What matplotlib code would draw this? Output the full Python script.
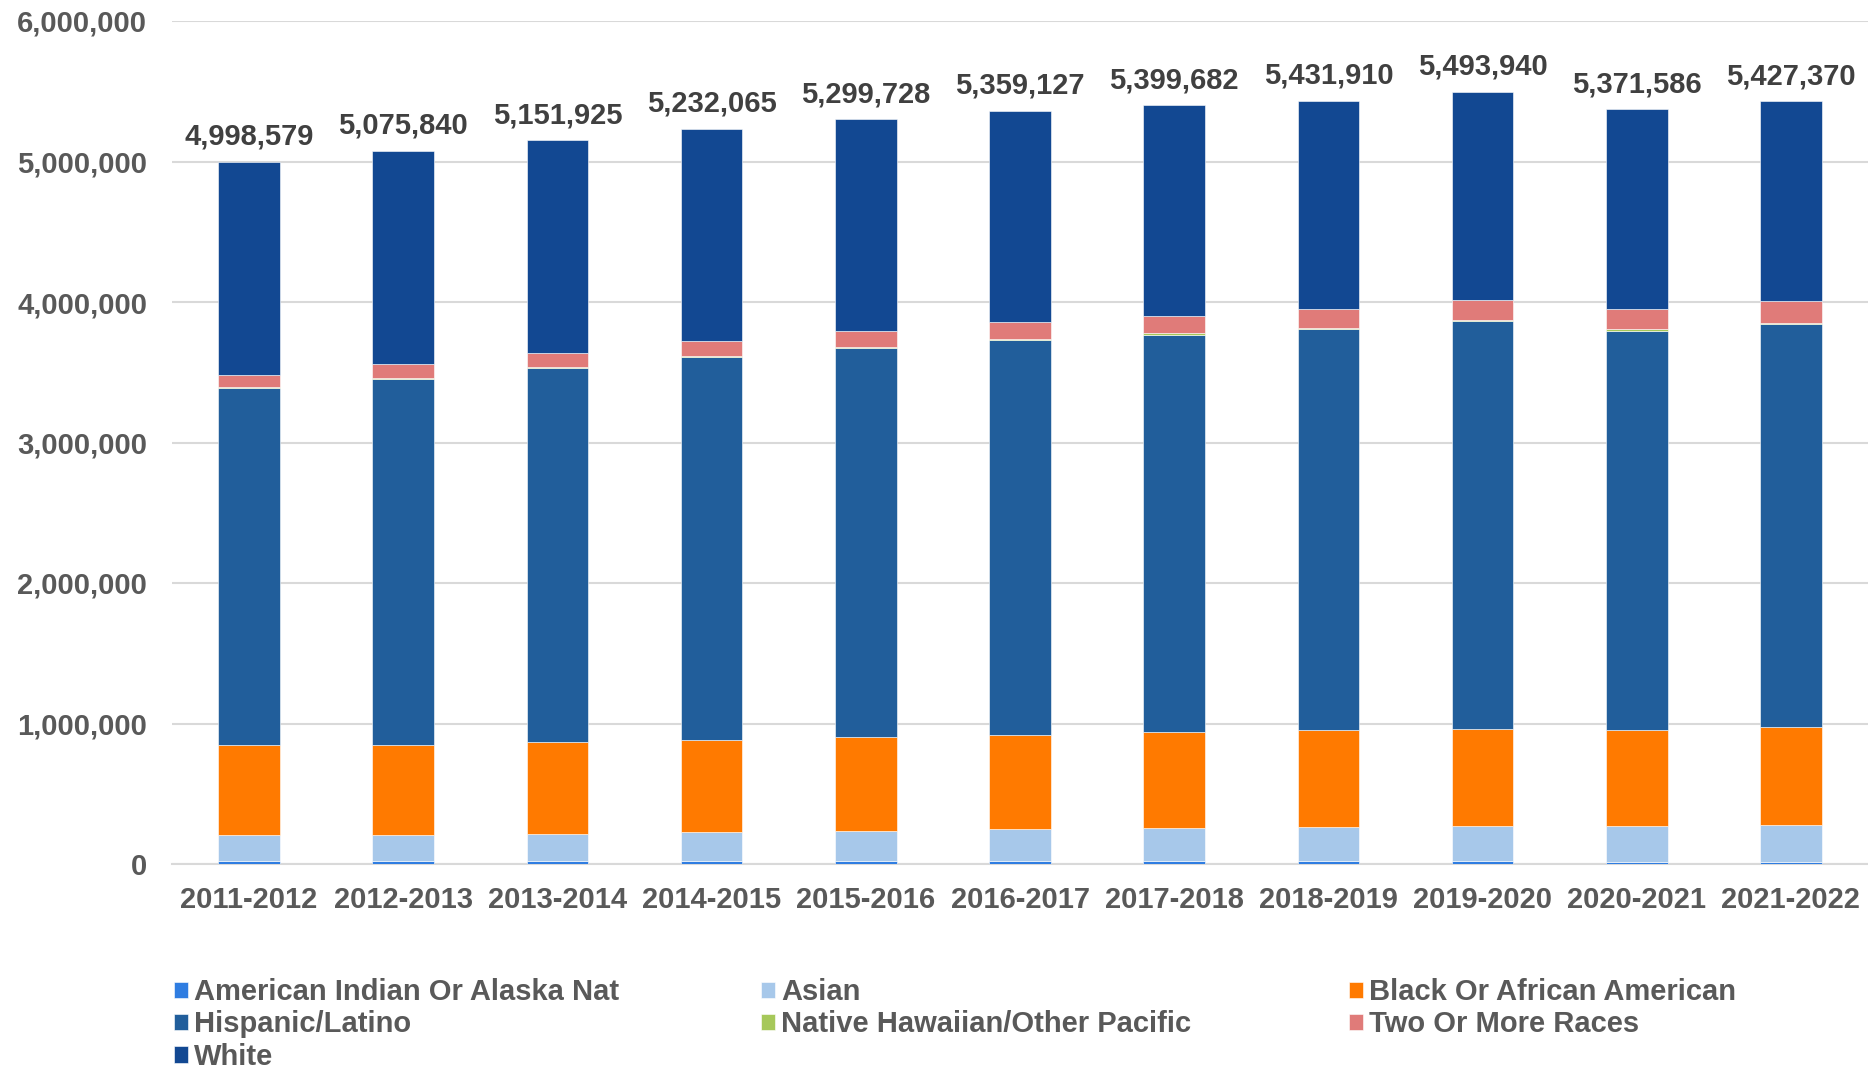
import matplotlib.pyplot as plt
from matplotlib.ticker import FuncFormatter

plt.rcParams['font.family'] = ['Liberation Sans', 'DejaVu Sans']
plt.rcParams['font.weight'] = 'bold'

years = ["2011-2012", "2012-2013", "2013-2014", "2014-2015", "2015-2016",
         "2016-2017", "2017-2018", "2018-2019", "2019-2020", "2020-2021",
         "2021-2022"]

totals = [4998579, 5075840, 5151925, 5232065, 5299728, 5359127,
          5399682, 5431910, 5493940, 5371586, 5427370]

american_indian = [23000, 21000, 21000, 21000, 21000, 21000,
                   21000, 21000, 20000, 17000, 16000]
asian = [181000, 184000, 192000, 205000, 215000, 225000,
         237000, 245000, 252000, 255000, 265000]
black = [642000, 645000, 655000, 660000, 668000, 675000,
         680000, 685000, 692000, 683000, 695000]
hispanic = [2540000, 2605000, 2665000, 2720000, 2770000, 2810000,
            2830000, 2855000, 2900000, 2842000, 2866000]
pacific = [6000, 6000, 7000, 7000, 7000, 8000,
           8000, 9000, 9000, 9000, 11000]
two_more = [86000, 95000, 100000, 106000, 113000, 120000,
            125000, 132000, 140000, 145000, 152000]
white = [1520579, 1519840, 1511925, 1513065, 1505728, 1500127,
         1498682, 1484910, 1480940, 1420586, 1422370]

series = [
    ("American Indian Or Alaska Nat", american_indian, "#2F7DE1"),
    ("Asian", asian, "#A7C8EA"),
    ("Black Or African American", black, "#FF7A00"),
    ("Hispanic/Latino", hispanic, "#215E9B"),
    ("Native Hawaiian/Other Pacific", pacific, "#A6C85A"),
    ("Two Or More Races", two_more, "#E07B79"),
    ("White", white, "#124892"),
]

W, H = 1868, 1069
fig = plt.figure(figsize=(W / 100, H / 100), dpi=100)
ax = fig.add_axes([172 / W, 1 - 864 / H, 1 - 172 / W, (864 - 21) / H])

x = list(range(len(years)))
bottom = [0] * len(years)
bars = {}
for name, vals, color in series:
    bars[name] = ax.bar(x, vals, 0.4, bottom=bottom, color=color,
                        edgecolor="white", linewidth=0.4, label=name, zorder=3)
    bottom = [b + v for b, v in zip(bottom, vals)]

for xi, t in zip(x, totals):
    ax.annotate(f"{t:,}", (xi, t), xytext=(0, 8), textcoords="offset points",
                ha="center", va="bottom", fontsize=21, fontweight="bold",
                color="#404040")

ax.set_xlim(-0.5, len(years) - 0.5)
ax.set_ylim(0, 6000000)
ax.set_yticks(range(0, 6000001, 1000000))
ax.yaxis.set_major_formatter(FuncFormatter(lambda v, p: f"{int(v):,}"))
ax.set_xticks(x)
ax.set_xticklabels(years)
ax.tick_params(axis="both", length=0, labelsize=21, labelcolor="#595959")
ax.tick_params(axis="y", pad=18)
ax.tick_params(axis="x", pad=16)
ax.grid(axis="y", color="#D9D9D9", linewidth=1.5, zorder=0)
for s in ["top", "right", "left"]:
    ax.spines[s].set_visible(False)
ax.spines["bottom"].set_color("#D9D9D9")
ax.spines["bottom"].set_linewidth(1.5)

# three legend columns, each reading down, laid out across the bottom
columns = [[0, 3, 6], [1, 4], [2, 5]]
col_left = [174, 761, 1349]
for idx, left in zip(columns, col_left):
    leg = fig.legend([bars[series[i][0]] for i in idx],
                     [series[i][0] for i in idx],
                     loc="upper left", bbox_to_anchor=(left / W, 1 - 978 / H),
                     frameon=False, fontsize=21, borderpad=0, borderaxespad=0,
                     handlelength=0.48, handleheight=0.48, handletextpad=0.2,
                     labelspacing=0.15)
    for t in leg.get_texts():
        t.set_color("#595959")

fig.savefig("out.png", dpi=100)
